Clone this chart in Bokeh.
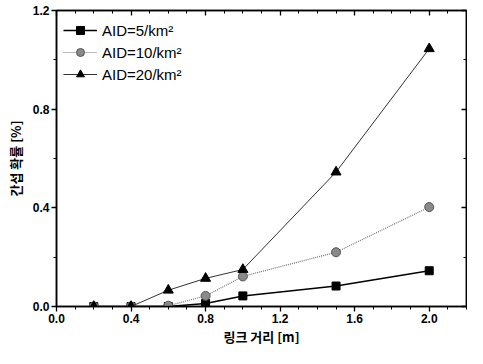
from bokeh.plotting import figure
from bokeh.models import (LinearAxis, Range1d, Legend, LegendItem, FixedTicker,
                          PrintfTickFormatter, CustomJSTickFormatter)
from bokeh.embed import file_html
from bokeh.resources import INLINE

x = [0.2, 0.4, 0.6, 0.8, 1.0, 1.5, 2.0]
aid5 = [0.0, 0.0, 0.0, 0.012, 0.043, 0.083, 0.145]
aid10 = [0.0, 0.0, 0.003, 0.043, 0.122, 0.22, 0.403]
aid20 = [0.0, 0.0, 0.066, 0.114, 0.15, 0.545, 1.045]
labels = ["AID=5/km\u00b2", "AID=10/km\u00b2", "AID=20/km\u00b2"]
x_ticks = [0.0, 0.4, 0.8, 1.2, 1.6, 2.0]
y_ticks = [0.0, 0.4, 0.8, 1.2]
x_title = "링크 거리 [m]"
y_title = "간섭 확률 [%]"

p = figure(width=467, height=348, output_backend="svg", toolbar_location=None,
           x_range=Range1d(0, 2.2), y_range=Range1d(0, 1.2),
           min_border_left=56, min_border_right=1, min_border_top=10, min_border_bottom=36)
p.background_fill_color = "white"
p.border_fill_color = "white"
p.outline_line_color = "black"
p.outline_line_width = 1.5
p.xgrid.visible = False
p.ygrid.visible = False

def style_axis(ax, ticks, minor, inside, show_labels):
    ax.ticker = FixedTicker(ticks=ticks, minor_ticks=minor)
    ax.axis_line_color = "black"
    ax.axis_line_width = 1.5
    ax.major_tick_line_color = "black"
    ax.minor_tick_line_color = "black"
    ax.major_tick_line_width = 1.3
    ax.minor_tick_line_width = 1
    if inside:
        ax.major_tick_in, ax.major_tick_out = 5, 0
        ax.minor_tick_in, ax.minor_tick_out = 3, 0
    else:
        ax.major_tick_in, ax.major_tick_out = 0, 5
        ax.minor_tick_in, ax.minor_tick_out = 0, 3
    if show_labels:
        ax.formatter = PrintfTickFormatter(format="%.1f")
        ax.major_label_text_font = "Liberation Sans"
        ax.major_label_text_font_style = "bold"
        ax.major_label_text_font_size = "12px"
        ax.major_label_text_color = "black"
        ax.major_label_standoff = 2
    else:
        ax.formatter = CustomJSTickFormatter(code="return ''")
        ax.major_label_standoff = 0

x_minor = [round(i * 0.1, 2) for i in range(0, 23)]
y_minor = [round(i * 0.2, 2) for i in range(0, 7)]

style_axis(p.xaxis[0], x_ticks, x_minor, False, True)
style_axis(p.yaxis[0], y_ticks, y_minor, False, True)
p.xaxis[0].axis_label = x_title
p.yaxis[0].axis_label = y_title
for ax in (p.xaxis[0], p.yaxis[0]):
    ax.axis_label_text_font = "Noto Sans CJK KR"
    ax.axis_label_text_font_style = "bold"
    ax.axis_label_text_font_size = "13px"
    ax.axis_label_text_color = "black"
p.xaxis[0].axis_label_standoff = 1
p.yaxis[0].axis_label_standoff = 5

top = LinearAxis()
style_axis(top, x_ticks, x_minor, True, False)
p.add_layout(top, "above")
right = LinearAxis()
style_axis(right, y_ticks, y_minor, True, False)
p.add_layout(right, "right")

l1 = p.line(x, aid5, line_color="black", line_width=1.5)
m1 = p.scatter(x, aid5, marker="square", size=8, fill_color="black", line_color="black")
l2 = p.line(x, aid10, line_color="#777777", line_width=1.2, line_dash="1 1")
m2 = p.scatter(x, aid10, marker="circle", size=9, fill_color="#8a8a8a", line_color="#555555")
l3 = p.line(x, aid20, line_color="#333333", line_width=1)
m3 = p.scatter(x, aid20, marker="triangle", size=10, fill_color="black", line_color="black")

legend = Legend(items=[LegendItem(label=labels[0], renderers=[l1, m1]),
                       LegendItem(label=labels[1], renderers=[l2, m2]),
                       LegendItem(label=labels[2], renderers=[l3, m3])],
                location=(7, 222))
legend.border_line_color = None
legend.background_fill_alpha = 0
legend.label_text_font = "Liberation Sans"
legend.label_text_font_size = "15px"
legend.label_text_color = "black"
legend.glyph_width = 34
legend.spacing = 2
legend.padding = 2
legend.label_standoff = 5
p.add_layout(legend)

open("out.html", "w").write(file_html(p, INLINE))
